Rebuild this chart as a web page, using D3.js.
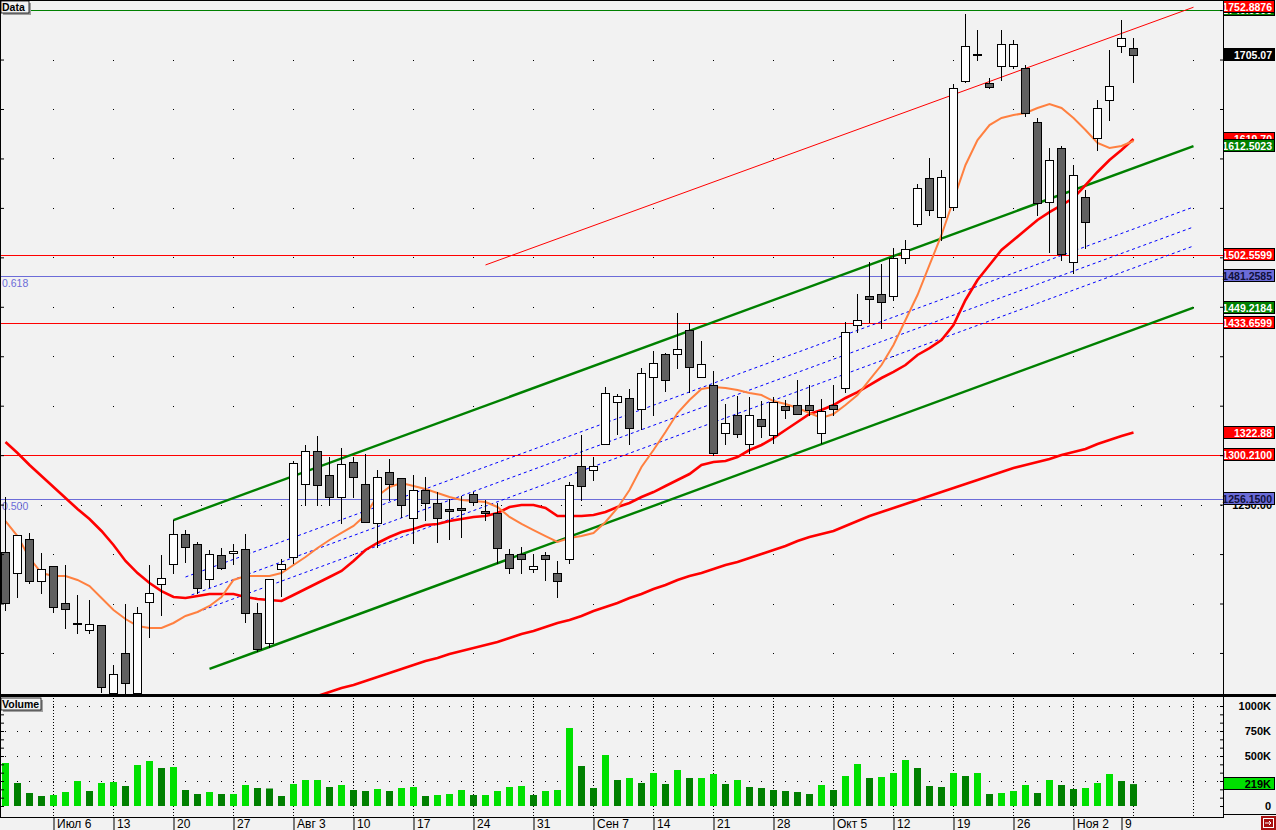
<!DOCTYPE html>
<html><head><meta charset="utf-8">
<script src="https://cdn.jsdelivr.net/npm/d3@7"></script>
<style>body{margin:0;background:#f2f2f2;overflow:hidden}svg{display:block}</style>
</head><body><svg id="c" width="1276" height="830"></svg>
<script>
// ---------- DATA ----------
const openP=[1202.1,1180.8,1215.2,1172.8,1187.9,1150.5,1129.8,1123.2,1128.3,1059.5,
1100.0,1059.5,1151.5,1169.7,1189.9,1220.3,1210.2,1174.8,1199.0,1201.1,
1205.1,1140.4,1110.1,1184.9,1197.0,1270.8,1304.2,1279.9,1257.7,1293.1,
1270.8,1231.4,1283.0,1276.9,1236.5,1264.8,1251.6,1245.6,1246.1,1260.7,
1243.5,1241.5,1200.1,1200.1,1184.9,1199.0,1180.8,1195.0,1289.0,1285.0,
1311.3,1353.7,1357.8,1346.7,1379.0,1402.3,1402.3,1426.5,1379.0,1370.9,
1322.4,1340.6,1311.3,1336.5,1320.4,1349.7,1350.7,1350.7,1322.4,1350.7,
1367.9,1431.6,1460.9,1462.9,1460.9,1499.3,1533.7,1580.2,1540.8,1550.9,
1678.3,1705.1,1676.3,1693.5,1693.5,1691.4,1636.8,1556.0,1610.6,1495.3,
1561.0,1620.7,1659.1,1713.7,1711.7];
const highP=[1257.7,1219.3,1221.3,1201.1,1187.9,1188.9,1158.6,1153.5,1128.3,1087.8,
1149.5,1146.5,1188.9,1199.0,1234.4,1224.3,1212.2,1204.1,1206.1,1210.2,
1220.3,1150.5,1174.8,1195.0,1294.1,1310.3,1319.4,1298.1,1307.2,1298.1,
1301.2,1285.0,1296.1,1276.9,1279.9,1277.9,1262.7,1255.7,1258.7,1262.7,
1254.6,1251.6,1205.1,1207.1,1200.1,1202.1,1193.0,1272.8,1320.4,1298.1,
1368.9,1361.8,1366.9,1388.1,1405.3,1403.3,1443.7,1433.6,1415.4,1385.1,
1351.7,1359.8,1358.8,1354.7,1358.8,1355.8,1376.0,1370.9,1356.8,1370.9,
1434.6,1462.9,1495.3,1493.3,1509.4,1517.5,1574.2,1600.4,1588.3,1675.3,
1746.0,1729.9,1681.3,1729.9,1719.8,1694.5,1640.9,1610.6,1612.6,1593.4,
1568.1,1659.1,1709.6,1740.0,1721.8];
const lowP=[1143.4,1156.6,1170.7,1160.6,1141.4,1125.2,1120.2,1120.2,1060.5,1058.5,
1059.5,1057.5,1116.1,1138.4,1180.8,1192.0,1160.6,1166.7,1184.9,1189.9,
1131.3,1102.0,1106.0,1157.6,1191.0,1249.6,1249.6,1249.6,1231.4,1257.7,
1232.4,1207.1,1254.6,1237.5,1211.2,1234.4,1212.2,1215.2,1217.2,1249.6,
1234.4,1191.0,1180.8,1180.8,1181.8,1173.8,1156.6,1191.0,1254.6,1274.9,
1311.3,1321.4,1311.3,1326.4,1340.6,1364.9,1388.1,1363.8,1379.0,1300.1,
1311.3,1318.3,1302.2,1318.3,1312.3,1337.6,1341.6,1340.6,1312.3,1340.6,
1363.8,1424.5,1434.6,1428.6,1456.9,1494.3,1531.7,1542.8,1517.5,1547.9,
1677.3,1699.5,1671.2,1679.3,1691.4,1642.9,1542.8,1505.4,1497.3,1484.2,
1509.4,1608.5,1638.9,1707.6,1677.3];
const closeP=[1150.5,1219.3,1172.8,1184.9,1146.5,1144.4,1128.8,1129.3,1065.6,1078.7,
1069.6,1140.4,1160.6,1175.8,1220.3,1207.1,1165.7,1200.1,1185.9,1203.1,
1140.4,1104.0,1174.8,1189.9,1292.1,1304.2,1269.8,1257.7,1291.0,1277.9,
1232.4,1277.9,1270.8,1249.6,1264.8,1251.6,1236.5,1243.5,1245.0,1252.6,
1241.5,1206.1,1185.9,1195.0,1187.9,1195.0,1172.8,1269.8,1268.8,1289.0,
1362.8,1359.8,1327.4,1383.1,1393.2,1376.0,1407.3,1389.1,1392.2,1302.2,
1332.5,1321.4,1340.6,1329.5,1353.7,1345.6,1341.6,1345.6,1344.6,1346.7,
1424.5,1436.6,1457.9,1454.8,1499.3,1508.4,1570.1,1547.9,1581.2,1671.2,
1713.7,1704.1,1672.2,1715.7,1715.7,1645.9,1554.9,1598.4,1503.4,1583.3,
1535.7,1651.0,1673.2,1721.8,1705.07];
const volumeK=[430,230,130,100,110,140,250,150,230,240,
200,410,450,380,390,160,120,140,120,120,
210,180,175,100,220,260,260,190,210,160,
150,170,150,180,190,100,110,120,160,110,
110,150,190,200,110,150,160,780,400,180,
510,260,280,230,330,220,360,280,280,320,
220,260,190,180,160,150,140,120,210,160,
300,420,280,290,330,460,380,200,190,330,
300,330,120,130,150,210,130,260,210,170,
180,230,320,250,219];
const maFast=[1233.4,1218.2,1196.0,1180.8,1177.8,1177.8,1173.8,1167.7,1155.6,1143.4,
1134.3,1127.3,1125.2,1125.2,1130.3,1137.4,1141.4,1147.5,1156.6,1173.8,
1177.8,1177.8,1177.8,1180.8,1188.9,1197.0,1206.1,1214.2,1221.3,1228.4,
1239.5,1258.7,1267.8,1271.8,1268.8,1265.8,1261.7,1257.7,1254.6,1253.6,
1252.6,1247.6,1237.5,1230.4,1224.3,1218.2,1212.2,1216.2,1218.2,1221.3,
1232.4,1246.6,1264.8,1288.0,1305.2,1323.4,1342.6,1355.8,1366.9,1368.9,
1367.9,1365.9,1362.8,1360.8,1354.7,1351.7,1347.7,1342.6,1337.6,1341.6,
1350.7,1360.8,1376.0,1391.1,1411.4,1436.6,1461.9,1492.3,1522.6,1558.0,
1593.4,1618.6,1633.8,1640.9,1643.9,1645.9,1651.0,1655.0,1651.0,1640.9,
1628.8,1615.6,1610.6,1612.6,1617.6];
const maMid=[1313.3,1302.2,1290.0,1278.9,1267.8,1256.7,1245.6,1235.4,1223.3,1209.2,
1193.0,1180.8,1170.7,1162.6,1156.6,1155.6,1157.6,1159.6,1159.6,1159.6,
1156.6,1154.6,1153.5,1152.5,1158.6,1164.7,1170.7,1176.8,1182.9,1193.0,
1204.1,1211.2,1217.2,1222.3,1225.3,1229.4,1230.4,1233.4,1235.4,1237.5,
1238.5,1241.5,1247.6,1249.6,1249.6,1246.6,1238.5,1238.5,1238.5,1239.5,
1242.5,1247.6,1251.6,1257.7,1262.7,1268.8,1274.9,1280.9,1290.0,1293.1,
1294.1,1298.1,1305.2,1310.3,1317.3,1325.4,1333.5,1341.6,1345.6,1350.7,
1357.8,1363.8,1370.9,1378.0,1384.1,1391.1,1401.3,1408.3,1416.4,1431.6,
1456.9,1477.1,1492.3,1507.4,1517.5,1527.6,1537.8,1545.8,1552.9,1560.0,
1573.1,1586.3,1598.4,1608.5,1619.7];
const maSlow=[null,null,null,null,null,null,null,null,null,null,
null,null,null,null,null,null,null,null,null,null,
null,null,null,null,null,
1053.4,1056.5,1060.5,1064.6,1067.6,1071.6,1075.7,1079.7,1083.8,1087.8,
1091.9,1094.9,1098.9,1102.0,1105.0,1108.0,1111.1,1115.1,1119.2,1122.2,
1126.2,1130.3,1133.3,1137.4,1142.4,1146.5,1150.5,1155.6,1159.6,1164.7,
1168.7,1173.8,1177.8,1180.8,1184.9,1188.9,1192.0,1196.0,1200.1,1204.1,
1208.1,1213.2,1217.2,1220.3,1223.3,1228.4,1233.4,1238.5,1242.5,1246.6,
1250.6,1254.6,1258.7,1262.7,1266.8,1270.8,1274.9,1278.9,1283.0,1287.0,
1290.0,1293.1,1296.1,1300.1,1303.2,1306.2,1311.3,1315.3,1319.4,1322.88];
const priceTicks=[1100,1150,1200,1250,1300,1350,1400,1450,1500,1550,1600,1650,1700,1750];
const volTicks=[250,500,750,1000];
const volTickLabels=["250K","500K","750K","1000K"];
const weekTickIdx=[4,9,14,19,24,29,34,39,44,49,54,59,64,69,74,79,84,89,93];
const weekTickLabels=["Июл 6","13","20","27","Авг 3","10","17","24","31","Сен 7","14","21","28","Окт 5","12","19","26","Ноя 2","9"];
const levelValues=[1749.9,1502.5599,1481.2585,1433.6599,1300.21,1256.15];
const levelKinds=["green","red","fib","red","red","fib"];
const fibLevels=[1481.2585,1256.15];
const fibTexts=["0.618","0.500"];
// trend lines: [startIndex, startPrice, endIndex, endPrice]
const channelUpper=[14,1234.4,99,1612.5023];
const channelLower=[17,1083.8,99,1449.2184];
const channelMid=[[15,1176.8,99,1550.9],[15.5,1158.6,99,1530.7],[16,1141.4,99,1511.5]];
const resistLine=[40,1492.3,99,1752.8876];
// right-side value labels (drawn in order)
const labelValues=[1749.9,1752.8876,1705.07,1619.7,1612.5023,1502.5599,1481.2585,1449.2184,1433.6599,1322.88,1300.21,1256.15];
const labelTexts=["1749.9000","1752.8876","1705.07","1619.70","1612.5023","1502.5599","1481.2585","1449.2184","1433.6599","1322.88","1300.2100","1256.1500"];
const labelKinds=["green","red","black","red","green","red","fib","green","red","red","red","fib"];

// ---------- DRAW ----------
const W=1276,H=830, BG="#f2f2f2";
const svg=d3.select("#c");
const FONT="'Liberation Sans', Arial, sans-serif";
svg.append("rect").attr("width",W).attr("height",H).attr("fill",BG);

const x=d3.scaleLinear().domain([0,1]).range([5.5,17.5]);
const y=d3.scaleLinear().domain([1058.5,1760.2]).range([694,0]);
const yv=d3.scaleLinear().domain([0,1000]).range([806,706]);

const defs=svg.append("defs");
defs.append("clipPath").attr("id","cm").append("rect").attr("x",1).attr("y",1).attr("width",1222).attr("height",693);
defs.append("clipPath").attr("id","cv").append("rect").attr("x",1).attr("y",697).attr("width",1222).attr("height",120);

const colors={green:"#008000",red:"#ff0000",fib:"#6c6cd8",black:"#000000"};

const main=svg.append("g").attr("clip-path","url(#cm)");
// grid dots
priceTicks.forEach(t=>{
  const yy=Math.round(y(t));
  if(t===1250){ for(let xx=21;xx<1222;xx+=20) main.append("rect").attr("x",xx).attr("y",yy).attr("width",1).attr("height",1).attr("fill","#000"); }
  else { for(let xx=53;xx<1222;xx+=60) main.append("rect").attr("x",xx).attr("y",yy).attr("width",1).attr("height",1).attr("fill","#000"); }
});
// horizontal levels
levelValues.forEach((v,i)=>{
  const yy=Math.round(y(v));
  main.append("rect").attr("x",0).attr("width",1223).attr("y",yy).attr("height",1)
    .attr("fill",colors[levelKinds[i]]).attr("shape-rendering","crispEdges");
});
fibLevels.forEach((v,i)=>{
  main.append("text").attr("x",2).attr("y",Math.round(y(v))+11).text(fibTexts[i])
   .attr("font-family",FONT).attr("font-size",10.5).attr("fill","#6c6cd8");
});
// trend lines
function tline(a,color,w,dash){
  const l=main.append("line").attr("x1",x(a[0])).attr("y1",y(a[1])).attr("x2",x(a[2])).attr("y2",y(a[3]))
   .attr("stroke",color).attr("stroke-width",w);
  if(dash) l.attr("stroke-dasharray",dash);
}
channelMid.forEach(a=>tline(a,"#0000ff",1,"3,3"));
tline(resistLine,"#ff0000",1);
tline(channelUpper,"#008000",2.4);
tline(channelLower,"#008000",2.4);
// moving averages
const idx=d3.range(openP.length);
const lineGen=arr=>d3.line().defined(i=>arr[i]!=null).x(i=>x(i)).y(i=>y(arr[i]))(idx);
main.append("path").attr("d",lineGen(maSlow)).attr("fill","none").attr("stroke","#ff0000").attr("stroke-width",2.6);
main.append("path").attr("d",lineGen(maMid)).attr("fill","none").attr("stroke","#ff0000").attr("stroke-width",2.6);
main.append("path").attr("d",lineGen(maFast)).attr("fill","none").attr("stroke","#ff8040").attr("stroke-width",2);
// candles
idx.forEach(i=>{
  const cx=x(i);
  const o=openP[i],c=closeP[i];
  main.append("line").attr("x1",cx).attr("x2",cx).attr("y1",Math.round(y(highP[i]))).attr("y2",Math.round(y(lowP[i]))+1)
    .attr("stroke","#000").attr("stroke-width",1).attr("shape-rendering","crispEdges");
  const top=Math.round(y(Math.max(o,c))), bot=Math.round(y(Math.min(o,c)));
  main.append("rect").attr("x",cx-4).attr("y",top+0.5).attr("width",8).attr("height",Math.max(1,bot-top))
    .attr("fill",c>=o?"#ffffff":"#606060").attr("stroke","#000").attr("stroke-width",1).attr("shape-rendering","crispEdges");
});

// axes ticks (price)
const axR=svg.append("g").attr("transform","translate(1223,0)").call(d3.axisLeft(y).tickValues(priceTicks).tickSize(3).tickFormat(""));
axR.select(".domain").remove();
const axL=svg.append("g").attr("transform","translate(1,0)").call(d3.axisRight(y).tickValues(priceTicks).tickSize(3).tickFormat(""));
axL.select(".domain").remove();
// partially hidden axis label
svg.append("text").attr("x",1272).attr("y",Math.round(y(1250))+4).attr("text-anchor","end").text("1250.00")
  .attr("font-family",FONT).attr("font-weight","bold").attr("font-size",11).attr("fill","#000");

// right labels
labelValues.forEach((v,i)=>{
  const yy=Math.round(y(v));
  const k=labelKinds[i];
  svg.append("rect").attr("x",1223.5).attr("y",yy-6.5).attr("width",51).attr("height",12)
    .attr("fill",colors[k]).attr("stroke","#000").attr("stroke-width",1);
  svg.append("text").attr("x",1272).attr("y",yy+4).attr("text-anchor","end").text(labelTexts[i])
    .attr("font-family",FONT).attr("font-weight","bold").attr("font-size",10.5)
    .attr("fill",k==="fib"?"#10103a":"#ffffff");
});

// ---------- VOLUME ----------
const vol=svg.append("g").attr("clip-path","url(#cv)");
for(let xx=53;xx<1222;xx+=60){
  vol.append("line").attr("x1",xx+0.5).attr("x2",xx+0.5).attr("y1",698).attr("y2",817).attr("stroke","#000").attr("stroke-dasharray","1,2");
}
volTicks.forEach(t=>{
  const yy=Math.round(yv(t));
  idx.concat(d3.range(95,102)).forEach(i=>vol.append("rect").attr("x",Math.floor(x(i))).attr("y",yy).attr("width",1).attr("height",1).attr("fill","#000"));
});
idx.forEach(i=>{
  const up = i===0 ? true : volumeK[i]>=volumeK[i-1];
  vol.append("rect").attr("x",x(i)-3.5).attr("y",yv(volumeK[i])).attr("width",7).attr("height",yv(0)-yv(volumeK[i]))
    .attr("fill",up?"#00e000":"#008000");
});
// volume axis ticks
const minor=d3.range(0,1001,1000/12);
const vR=svg.append("g").attr("transform","translate(1223,0)").call(d3.axisLeft(yv).tickValues(minor).tickSize(3).tickFormat(""));
vR.select(".domain").remove();
const vL=svg.append("g").attr("transform","translate(1,0)").call(d3.axisRight(yv).tickValues(minor).tickSize(3).tickFormat(""));
vL.select(".domain").remove();
volTicks.concat([0]).forEach((t,i)=>{
  svg.append("text").attr("x",1271).attr("y",Math.round(yv(t))+4).attr("text-anchor","end").text(t===0?"0":volTickLabels[i])
   .attr("font-family",FONT).attr("font-weight","bold").attr("font-size",11).attr("fill","#000");
});
// current volume label
const lastV=volumeK[volumeK.length-1];
svg.append("rect").attr("x",1223.5).attr("y",Math.round(yv(lastV))-6.5).attr("width",51).attr("height",12).attr("fill","#00e000").attr("stroke","#000");
svg.append("text").attr("x",1271).attr("y",Math.round(yv(lastV))+4).attr("text-anchor","end").text(lastV+"K")
   .attr("font-family",FONT).attr("font-weight","bold").attr("font-size",11).attr("fill","#000");

// ---------- FRAME ----------
const fr=svg.append("g").attr("shape-rendering","crispEdges");
fr.append("line").attr("x1",0.5).attr("x2",0.5).attr("y1",0).attr("y2",818).attr("stroke","#000");
fr.append("line").attr("x1",0).attr("x2",1224).attr("y1",0.5).attr("y2",0.5).attr("stroke","#000");
fr.append("line").attr("x1",1223.5).attr("x2",1223.5).attr("y1",0).attr("y2",818).attr("stroke","#000");
fr.append("rect").attr("x",0).attr("y",694).attr("width",W).attr("height",3).attr("fill","#000");
fr.append("line").attr("x1",0).attr("x2",1224).attr("y1",817.5).attr("y2",817.5).attr("stroke","#000");
fr.append("line").attr("x1",1223).attr("x2",W).attr("y1",814.5).attr("y2",814.5).attr("stroke","#000");

// x axis
const ax=svg.append("g").attr("transform","translate(0,818)")
  .call(d3.axisBottom(x).tickValues(weekTickIdx).tickSize(12).tickFormat((d,i)=>weekTickLabels[i]));
ax.select(".domain").remove();
ax.selectAll(".tick line").attr("stroke","#000");
ax.selectAll(".tick text").attr("text-anchor","start").attr("x",3).attr("y",0).attr("dy","10px")
  .attr("font-family",FONT).attr("font-size",12).attr("fill","#000");

// panel captions
function caption(x0,y0,w,t){
  svg.append("rect").attr("x",x0+2).attr("y",y0+2).attr("width",w).attr("height",12).attr("fill","#a0a0a0");
  svg.append("rect").attr("x",x0).attr("y",y0).attr("width",w).attr("height",12).attr("fill","#f2f2f2").attr("stroke","#000").attr("stroke-width",0.8);
  svg.append("text").attr("x",x0+1).attr("y",y0+10).text(t).attr("font-family",FONT).attr("font-weight","bold").attr("font-size",10.5).attr("fill","#000");
}
caption(1,1,28,"Data");
caption(1,698,40,"Volume");

// exit icon
svg.append("rect").attr("x",1261).attr("y",816).attr("width",15).attr("height",14).attr("fill","#a81010");
svg.append("rect").attr("x",1263.5).attr("y",818.5).attr("width",10).attr("height",9).attr("fill","none").attr("stroke","#fff");
svg.append("path").attr("d","M1265,823 H1271 M1269,821 L1271,823 L1269,825").attr("stroke","#fff").attr("fill","none");
</script></body></html>
